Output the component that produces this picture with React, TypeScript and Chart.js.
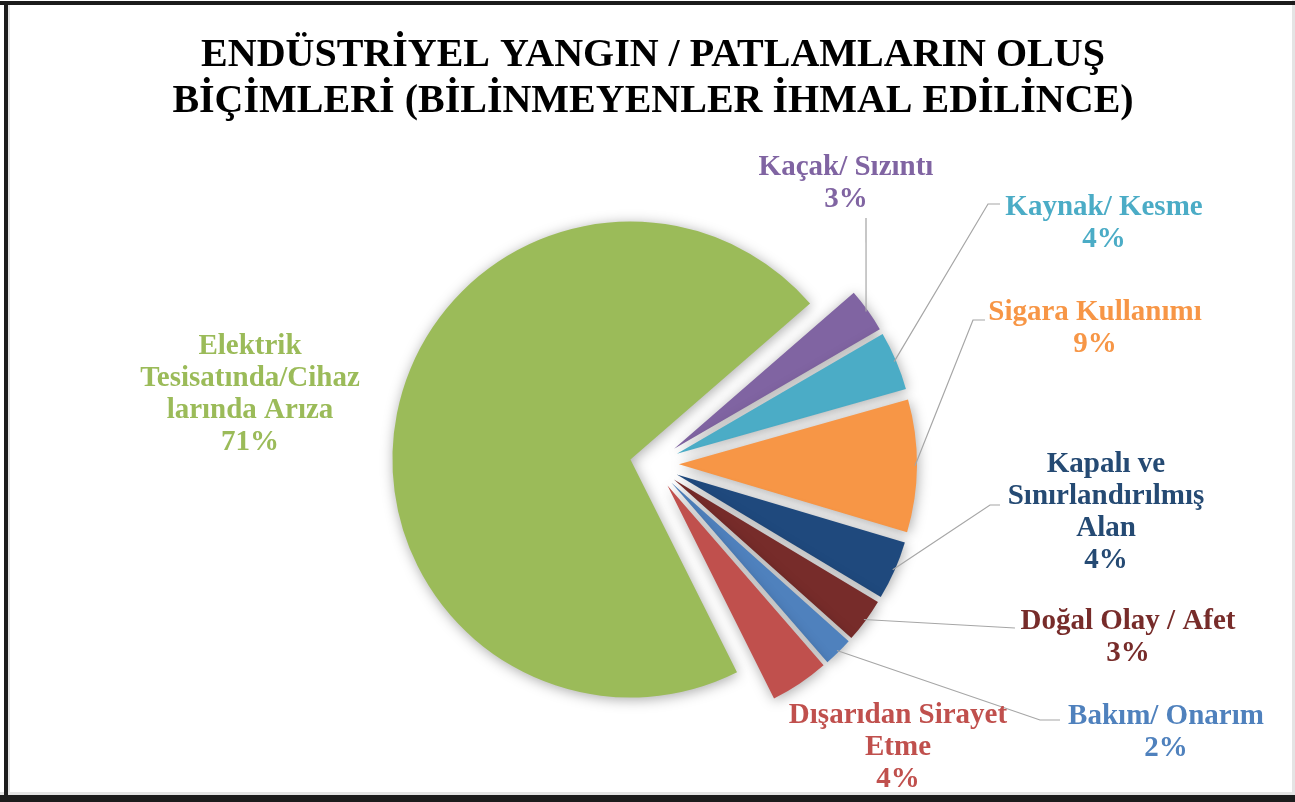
import React, { useEffect, useRef } from "react";
import { Chart, registerables } from "chart.js";

Chart.register(...registerables);

// ---- data ----
const CATEGORIES = [
  "Kaçak/ Sızıntı",
  "Kaynak/ Kesme",
  "Sigara Kullanımı",
  "Kapalı ve Sınırlandırılmış Alan",
  "Doğal Olay / Afet",
  "Bakım/ Onarım",
  "Dışarıdan Sirayet Etme",
  "Elektrik Tesisatında/Cihazlarında Arıza",
];
const VALUES = [3, 4, 9, 4, 3, 2, 4, 71];
const LABEL_LINES = [
  ["Kaçak/ Sızıntı"],
  ["Kaynak/ Kesme"],
  ["Sigara Kullanımı"],
  ["Kapalı ve", "Sınırlandırılmış", "Alan"],
  ["Doğal Olay / Afet"],
  ["Bakım/ Onarım"],
  ["Dışarıdan Sirayet", "Etme"],
  ["Elektrik", "Tesisatında/Cihaz", "larında Arıza"],
];
const TITLE_LINES = [
  "ENDÜSTRİYEL YANGIN / PATLAMLARIN OLUŞ",
  "BİÇİMLERİ (BİLİNMEYENLER İHMAL EDİLİNCE)",
];

// ---- style / layout ----
const COLORS = ["#8064A2", "#4BACC6", "#F79646", "#1F497D", "#772C2A", "#4F81BD", "#C0504D", "#9BBB59"];
const LABEL_COLORS = ["#8064A2", "#4BACC6", "#F79646", "#254A73", "#772C2A", "#4F81BD", "#C0504D", "#9BBB59"];
const EXPLODE = [26, 26, 26, 26, 26, 26, 26, 23];
const LABEL_POS = [
  { x: 846, y: 168 },
  { x: 1104, y: 208 },
  { x: 1095, y: 313 },
  { x: 1106, y: 465 },
  { x: 1128, y: 622 },
  { x: 1166, y: 717 },
  { x: 898, y: 716 },
  { x: 250, y: 347 },
];
const LEADERS: (number[][] | null)[] = [
  [[866, 218]],
  [[988, 204], [1000, 204]],
  [[973, 320], [985, 320]],
  [[990, 505], [1000, 505]],
  [[1015, 628]],
  [[1040, 720], [1060, 720]],
  null,
  null,
];
const LABEL_FONT = 'bold 29px "Liberation Serif"';
const LINE_H = 32;

const explodePlugin = {
  id: "explodeSlices",
  afterDatasetsUpdate(chart: any) {
    const meta = chart.getDatasetMeta(0);
    meta.data.forEach((el: any, i: number) => {
      const mid = (el.startAngle + el.endAngle) / 2;
      el.x += Math.cos(mid) * EXPLODE[i];
      el.y += Math.sin(mid) * EXPLODE[i];
    });
  },
};

const decorPlugin = {
  id: "decor",
  beforeDatasetsDraw(chart: any) {
    const ctx = chart.ctx;
    ctx.save();
    ctx.shadowColor = "rgba(0,0,0,0.34)";
    ctx.shadowBlur = 13;
    ctx.shadowOffsetX = 1;
    ctx.shadowOffsetY = 2;
  },
  afterDatasetsDraw(chart: any) {
    const ctx = chart.ctx;
    ctx.restore();
    const meta = chart.getDatasetMeta(0);
    const total = VALUES.reduce((a, b) => a + b, 0);
    ctx.save();
    meta.data.forEach((el: any, i: number) => {
      const lead = LEADERS[i];
      if (lead) {
        const mid = (el.startAngle + el.endAngle) / 2;
        const r = el.outerRadius - 2;
        ctx.beginPath();
        ctx.moveTo(el.x + Math.cos(mid) * r, el.y + Math.sin(mid) * r);
        lead.forEach(([x, y]) => ctx.lineTo(x, y));
        ctx.strokeStyle = "#a6a6a6";
        ctx.lineWidth = 1.2;
        ctx.stroke();
      }
      const lines = [...LABEL_LINES[i], Math.round((VALUES[i] / total) * 100) + "%"];
      ctx.font = LABEL_FONT;
      ctx.fillStyle = LABEL_COLORS[i];
      ctx.textAlign = "center";
      ctx.textBaseline = "middle";
      lines.forEach((t, j) => ctx.fillText(t, LABEL_POS[i].x, LABEL_POS[i].y + j * LINE_H));
    });
    ctx.restore();
  },
  afterDraw(chart: any) {
    const ctx = chart.ctx;
    ctx.save();
    ctx.fillStyle = "#e4e4e4";
    ctx.fillRect(1292, 0, 3, 802);
    ctx.fillRect(8, 5, 2, 790);
    ctx.fillRect(0, 792, 1295, 3);
    ctx.fillStyle = "#1c1c1c";
    ctx.fillRect(0, 1, 1295, 4);
    ctx.fillRect(4, 1, 4, 801);
    ctx.fillRect(0, 795, 1295, 7);
    ctx.restore();
  },
};

export default function App() {
  const ref = useRef<HTMLCanvasElement | null>(null);
  useEffect(() => {
    if (!ref.current) return;
    const chart = new Chart(ref.current, {
      type: "pie",
      data: {
        labels: CATEGORIES,
        datasets: [
          {
            data: VALUES,
            backgroundColor: COLORS,
            borderWidth: 0,
          },
        ],
      },
      options: {
        animation: false,
        responsive: false,
        rotation: 49,
        radius: 238,
        layout: { padding: { left: 11, right: 0, top: 0, bottom: 0 } },
        events: [],
        plugins: {
          legend: { display: false },
          tooltip: { enabled: false },
          title: {
            display: true,
            text: TITLE_LINES,
            color: "#000",
            font: { family: "Liberation Serif", size: 40, weight: "bold", lineHeight: 1.15 },
            padding: { top: 33, bottom: 1 },
          },
        },
      } as any,
      plugins: [explodePlugin, decorPlugin],
    });
    return () => chart.destroy();
  }, []);
  return (
    <div style={{ position: "fixed", left: 0, top: 0, width: 1295, height: 802, background: "#fff" }}>
      <canvas ref={ref} width={1295} height={802} style={{ width: 1295, height: 802, display: "block" }} />
    </div>
  );
}
